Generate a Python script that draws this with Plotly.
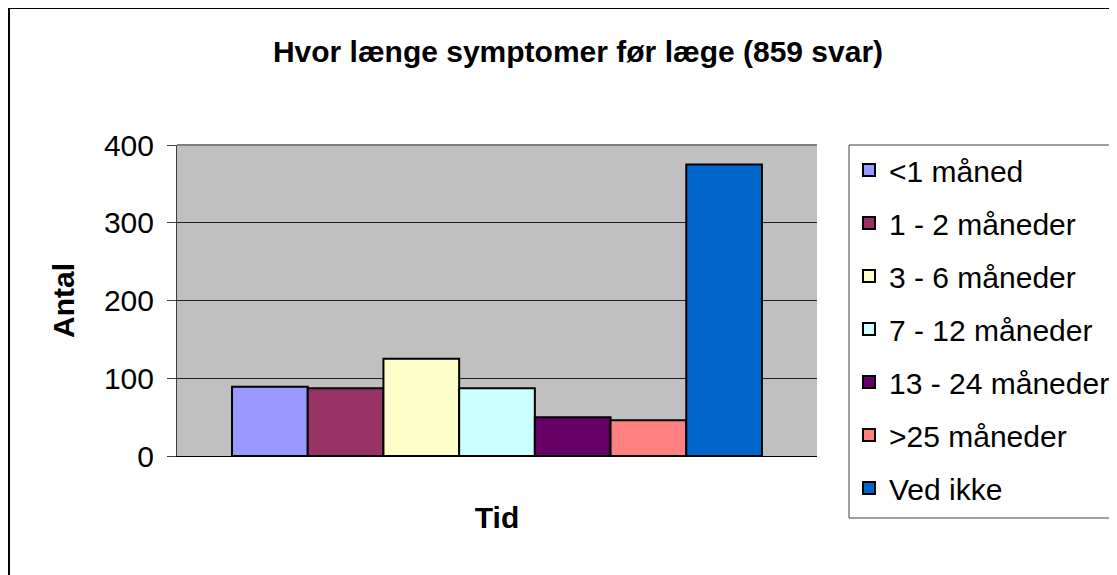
import plotly.graph_objects as go

categories = ["<1 måned", "1 - 2 måneder", "3 - 6 måneder", "7 - 12 måneder",
              "13 - 24 måneder", ">25 måneder", "Ved ikke"]
values = [89, 87, 125, 87, 50, 46, 375]
colors = ["#9999FF", "#993366", "#FFFFCC", "#CCFFFF", "#660066", "#FF8080", "#0066CC"]
group_label = ["Tid"]
y_ticks = [0, 100, 200, 300, 400]

FONT = "Liberation Sans, Arial, sans-serif"
FS = 30

fig = go.Figure()
for name, val, col in zip(categories, values, colors):
    fig.add_trace(go.Bar(
        x=group_label, y=[val], name=name, legendgroup=name,
        marker=dict(color=col, line=dict(color="black", width=2)),
    ))

# page is offset by 8px (body margin); coordinates below are figure coords
W, H = 1117, 575
L, R, T, B = 169, 308, 137, 127
pw, ph = W - L - R, H - T - B

def px_x(p):
    return (p - L) / pw

def px_y(p):
    return (H - B - p) / ph

fig.update_layout(
    width=W, height=H,
    margin=dict(l=L, r=R, t=T, b=B, autoexpand=False),
    paper_bgcolor="white",
    plot_bgcolor="#C0C0C0",
    barmode="group",
    bargap=0.172,
    bargroupgap=0,
    font=dict(family=FONT, size=FS, color="black"),
    title=dict(text="<b>Hvor længe symptomer før læge (859 svar)</b>",
               x=px_x(570), xanchor="center", xref="paper",
               y=1 - 43 / H, yanchor="middle",
               font=dict(family=FONT, size=FS, color="black")),
    showlegend=True,
    legend=dict(x=px_x(841), xanchor="left", y=px_y(136), yanchor="top",
                maxheight=500,
                bgcolor="rgba(0,0,0,0)", borderwidth=0,
                traceorder="grouped", tracegroupgap=11,
                font=dict(family=FONT, size=FS, color="black")),
    xaxis=dict(showticklabels=False, showline=True, linecolor="black", linewidth=1,
               ticks="", showgrid=False, mirror=False,
               title=dict(text="<b>Tid</b>", standoff=50,
                          font=dict(family=FONT, size=FS))),
    yaxis=dict(range=[0, 400], tickvals=y_ticks, ticks="outside", ticklen=9,
               tickcolor="#404040", showline=True, linecolor="#404040", linewidth=1,
               ticklabelstandoff=7,
               showgrid=True, gridcolor="#202020", gridwidth=1, zeroline=False,
               tickfont=dict(family=FONT, size=FS),
               title=dict(text="<b>Antal</b>", standoff=20,
                          font=dict(family=FONT, size=FS))),
    shapes=[
        # plot area top border
        dict(type="line", xref="paper", yref="paper", x0=0, x1=1, y0=1, y1=1,
             line=dict(color="#808080", width=2)),
        # legend box
        dict(type="rect", xref="paper", yref="paper",
             x0=px_x(841), x1=px_x(1140), y0=px_y(137), y1=px_y(510),
             line=dict(color="#404040", width=1), layer="below"),
        # outer chart border
        dict(type="rect", xref="paper", yref="paper",
             x0=px_x(1), x1=px_x(1140), y0=px_y(0), y1=px_y(600),
             line=dict(color="black", width=2), layer="below"),
    ],
)

fig.write_html("out.html")
